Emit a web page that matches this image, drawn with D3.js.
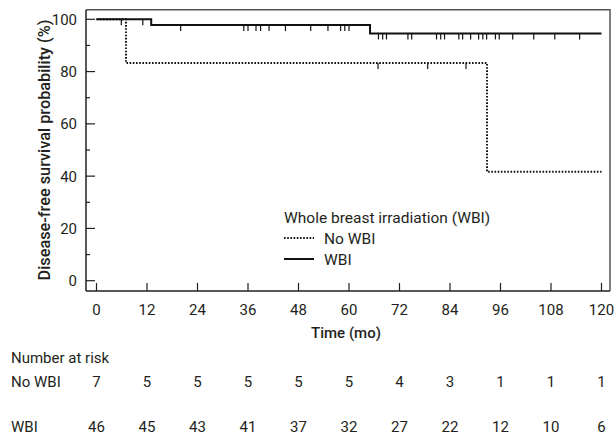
<!DOCTYPE html>
<html>
<head>
<meta charset="utf-8">
<script src="https://cdn.jsdelivr.net/npm/d3@7"></script>
<style>
  body { margin: 0; background: #fff; }
  text { font-family: Roboto, "Noto Sans", sans-serif; fill: #231f20; }
</style>
</head>
<body>
<svg id="chart" width="614" height="439"></svg>
<script>
// x axis ticks (months)
var monthTicks = [0, 12, 24, 36, 48, 60, 72, 84, 96, 108, 120];
var survTicks = [0, 20, 40, 60, 80, 100];

// step points of each Kaplan-Meier curve (time, survival %)
var noWbiTimes = [0, 7, 92.8, 120];
var noWbiSurv  = [100, 83.3, 41.7, 41.7];
var wbiTimes   = [0, 13, 65, 120];
var wbiSurv    = [100, 97.8, 94.6, 94.6];

// censored observations (months)
var noWbiCensor = [5.9, 66.9, 78.7, 87.8];
var wbiCensor = [11, 20, 35, 36, 37.9, 39, 41, 44.9, 50.9, 55, 58, 59, 60,
                 67, 68, 68.9, 74, 74.9, 80.8, 81.8, 82.7, 86.1, 87, 88.9,
                 90.8, 91.8, 92.7, 94.8, 95.7, 98.9, 103.9, 108.9, 114.8];

// number at risk
var riskLabels = ["No WBI", "WBI"];
var noWbiRisk = [7, 5, 5, 5, 5, 5, 4, 3, 1, 1, 1];
var wbiRisk   = [46, 45, 43, 41, 37, 32, 27, 22, 12, 10, 6];

var svg = d3.select("#chart");

var x = d3.scaleLinear().domain([0, 120]).range([96.5, 601.5]);
var y = d3.scaleLinear().domain([0, 100]).range([280.7, 19.3]);

// frame (top + right, grey)
svg.append("path")
    .attr("d", "M86,9.7H610V291")
    .attr("fill", "none")
    .attr("stroke", "#555")
    .attr("stroke-width", 1.5);

// y axis with minor ticks
var yAxis = svg.append("g").attr("transform", "translate(86,0)");
yAxis.append("line").attr("x1", 0).attr("x2", 0).attr("y1", 9.7).attr("y2", 291)
    .attr("stroke", "#231f20").attr("stroke-width", 1.5);
yAxis.selectAll(".minor").data(d3.range(10, 100, 20)).enter().append("line")
    .attr("class", "minor")
    .attr("x1", 0).attr("x2", 4)
    .attr("y1", function(d) { return y(d); })
    .attr("y2", function(d) { return y(d); })
    .attr("stroke", "#231f20").attr("stroke-width", 1.2);
yAxis.selectAll(".major").data(survTicks).enter().append("line")
    .attr("class", "major")
    .attr("x1", 0).attr("x2", 9)
    .attr("y1", function(d) { return y(d); })
    .attr("y2", function(d) { return y(d); })
    .attr("stroke", "#231f20").attr("stroke-width", 1.2);
yAxis.selectAll(".lab").data(survTicks).enter().append("text")
    .attr("class", "lab")
    .attr("x", -9)
    .attr("y", function(d) { return y(d); })
    .attr("dy", "0.36em")
    .attr("text-anchor", "end")
    .attr("font-size", 15)
    .text(function(d) { return d; });

// x axis
var xAxis = svg.append("g").attr("transform", "translate(0,291)");
xAxis.append("line").attr("x1", 86).attr("x2", 610).attr("y1", 0).attr("y2", 0)
    .attr("stroke", "#231f20").attr("stroke-width", 1.5);
xAxis.selectAll(".tk").data(monthTicks).enter().append("line")
    .attr("class", "tk")
    .attr("x1", function(d) { return x(d); })
    .attr("x2", function(d) { return x(d); })
    .attr("y1", 0).attr("y2", -8)
    .attr("stroke", "#231f20").attr("stroke-width", 1.2);
xAxis.selectAll(".lab").data(monthTicks).enter().append("text")
    .attr("class", "lab")
    .attr("x", function(d) { return x(d); })
    .attr("y", 24)
    .attr("text-anchor", "middle")
    .attr("font-size", 15)
    .text(function(d) { return d; });

// axis titles
svg.append("text")
    .attr("x", 346).attr("y", 338)
    .attr("text-anchor", "middle")
    .attr("font-size", 15)
    .attr("font-weight", 500)
    .text("Time (mo)");
svg.append("text")
    .attr("transform", "translate(50,150) rotate(-90)")
    .attr("text-anchor", "middle")
    .attr("font-size", 16.3)
    .attr("font-weight", 500)
    .text("Disease-free survival probability (%)");

// curves
var line = d3.line()
    .x(function(d) { return x(d[0]); })
    .y(function(d) { return y(d[1]); })
    .curve(d3.curveStepAfter);

function stepValue(times, surv, t) {
    var i = d3.bisectRight(times, t) - 1;
    return surv[Math.max(0, i)];
}

function drawGroup(times, surv, censor, dash) {
    var pts = d3.zip(times, surv);
    svg.append("path")
        .attr("d", line(pts))
        .attr("fill", "none")
        .attr("stroke", "#111")
        .attr("stroke-width", 2)
        .attr("stroke-dasharray", dash);
    svg.selectAll(null).data(censor).enter().append("line")
        .attr("x1", function(d) { return x(d); })
        .attr("x2", function(d) { return x(d); })
        .attr("y1", function(d) { return y(stepValue(times, surv, d)); })
        .attr("y2", function(d) { return y(stepValue(times, surv, d)) + 6; })
        .attr("stroke", "#111")
        .attr("stroke-width", 1.2);
}

drawGroup(wbiTimes, wbiSurv, wbiCensor, null);
drawGroup(noWbiTimes, noWbiSurv, noWbiCensor, "1.6,1.6");

// legend
var leg = svg.append("g").attr("transform", "translate(284,0)");
leg.append("text").attr("x", 0).attr("y", 223).attr("font-size", 15.5)
    .text("Whole breast irradiation (WBI)");
leg.append("line").attr("x1", 0).attr("x2", 30).attr("y1", 238).attr("y2", 238)
    .attr("stroke", "#111").attr("stroke-width", 2).attr("stroke-dasharray", "1.6,1.6");
leg.append("text").attr("x", 40).attr("y", 243.5).attr("font-size", 15.5).text("No WBI");
leg.append("line").attr("x1", 0).attr("x2", 30).attr("y1", 259).attr("y2", 259)
    .attr("stroke", "#111").attr("stroke-width", 2);
leg.append("text").attr("x", 40).attr("y", 264.5).attr("font-size", 15.5).text("WBI");

// number at risk table
svg.append("text").attr("x", 11).attr("y", 363).attr("font-size", 15).text("Number at risk");
var riskRows = [noWbiRisk, wbiRisk];
var rowY = [386.7, 431.5];
riskRows.forEach(function(row, i) {
    svg.append("text").attr("x", 11).attr("y", rowY[i]).attr("font-size", 15).text(riskLabels[i]);
    svg.selectAll(null).data(row).enter().append("text")
        .attr("x", function(d, j) { return x(monthTicks[j]); })
        .attr("y", rowY[i])
        .attr("text-anchor", "middle")
        .attr("font-size", 15)
        .text(function(d) { return d; });
});
</script>
</body>
</html>
